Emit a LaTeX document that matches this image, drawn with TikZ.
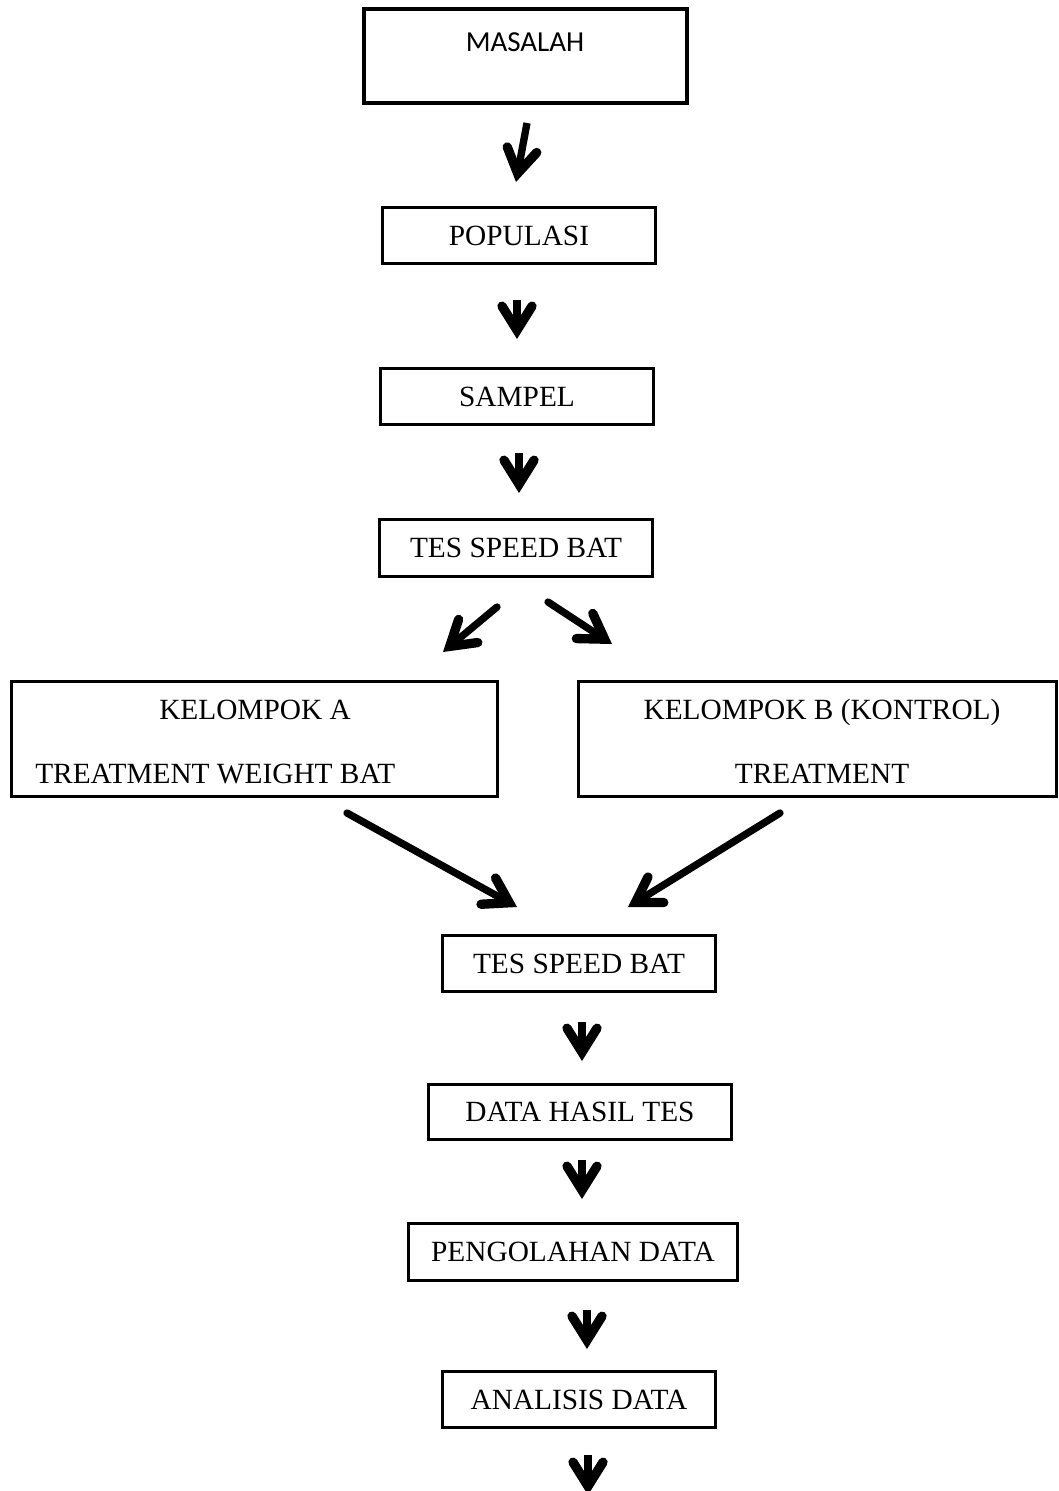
\documentclass[tikz,border=0pt]{standalone}
\usepackage{fontspec}
\setmainfont{Liberation Serif}
\newfontfamily\calibfont{Carlito}
\usetikzlibrary{arrows.meta}
\begin{document}
\begin{tikzpicture}[x=0.75pt,y=-0.75pt,
  box/.style={draw=black, line width=2.25pt, inner sep=0pt, font=\fontsize{22}{26}\selectfont,
              text height=14.5pt, text depth=0pt},
  txt/.style={inner sep=0pt, font=\fontsize{22}{26}\selectfont, text height=14.5pt, text depth=0pt},
  arr/.style={line width=5.5pt, -{Straight Barb[length=18pt,width=22.5pt,line width=7pt,line cap=round,line join=miter]}}]
\useasboundingbox (0,0) rectangle (1059,1491);
\fill[white] (0,0) rectangle (1059,1491);

% boxes
\node[box, line width=3pt, minimum width=242.25pt, minimum height=70.5pt,
      font=\calibfont\fontsize{21.75}{26}\selectfont,
      text height=12pt, text depth=18.75pt] (masalah) at (525,56.5) {MASALAH};
\node[box, minimum width=204.75pt, minimum height=42pt] (populasi) at (519,235.5) {POPULASI};
\node[box, minimum width=204.75pt, minimum height=42pt] (sampel) at (517,396.5) {SAMPEL};
\node[box, minimum width=204.75pt, minimum height=42.75pt] (tes1) at (516,548) {TES SPEED BAT};
\node[box, minimum width=364.5pt, minimum height=86.25pt] (kela) at (254.5,739) {};
\node[txt] (kelaA) at (255,710) {KELOMPOK A};
\node[txt, anchor=west] (kelaB) at (35,774) {TREATMENT WEIGHT BAT};
\node[box, minimum width=358.5pt, minimum height=86.25pt] (kelb) at (817.5,739) {};
\node[txt] (kelbA) at (822,710) {KELOMPOK B (KONTROL)};
\node[txt] (kelbB) at (822,774) {TREATMENT};
\node[box, minimum width=204.75pt, minimum height=42pt] (tes2) at (579,963.5) {TES SPEED BAT};
\node[box, minimum width=227.25pt, minimum height=41.25pt] (data) at (580,1112) {DATA HASIL TES};
\node[box, minimum width=246.75pt, minimum height=42.75pt] (olah) at (573,1252) {PENGOLAHAN DATA};
\node[box, minimum width=204.75pt, minimum height=42pt] (anal) at (579,1399.5) {ANALISIS DATA};

% arrow end points
\coordinate (a1s) at (527,123);  \coordinate (a1e) at (516,182);
\coordinate (a2s) at (517,300);  \coordinate (a2e) at (517,339);
\coordinate (a3s) at (519,453);  \coordinate (a3e) at (519,493);
\coordinate (a4s) at (497,607);  \coordinate (a4e) at (443,652);
\coordinate (a5s) at (548,602);  \coordinate (a5e) at (612,644);
\coordinate (a6s) at (347,813);  \coordinate (a6e) at (517,907);
\coordinate (a7s) at (780,813);  \coordinate (a7e) at (628,907);
\coordinate (a8s) at (582,1022); \coordinate (a8e) at (582,1061);
\coordinate (a9s) at (582,1160); \coordinate (a9e) at (582,1199);
\coordinate (a10s) at (587,1310); \coordinate (a10e) at (587,1349);
\coordinate (a11s) at (588,1455); \coordinate (a11e) at (588,1495);

\draw[arr] (a1s) -- (a1e);
\draw[arr] (a2s) -- (a2e);
\draw[arr] (a3s) -- (a3e);
\draw[arr, line cap=round] (a4s) -- (a4e);
\draw[arr, line cap=round] (a5s) -- (a5e);
\draw[arr, line cap=round] (a6s) -- (a6e);
\draw[arr, line cap=round] (a7s) -- (a7e);
\draw[arr] (a8s) -- (a8e);
\draw[arr] (a9s) -- (a9e);
\draw[arr] (a10s) -- (a10e);
\draw[arr] (a11s) -- (a11e);
\end{tikzpicture}
\end{document}
